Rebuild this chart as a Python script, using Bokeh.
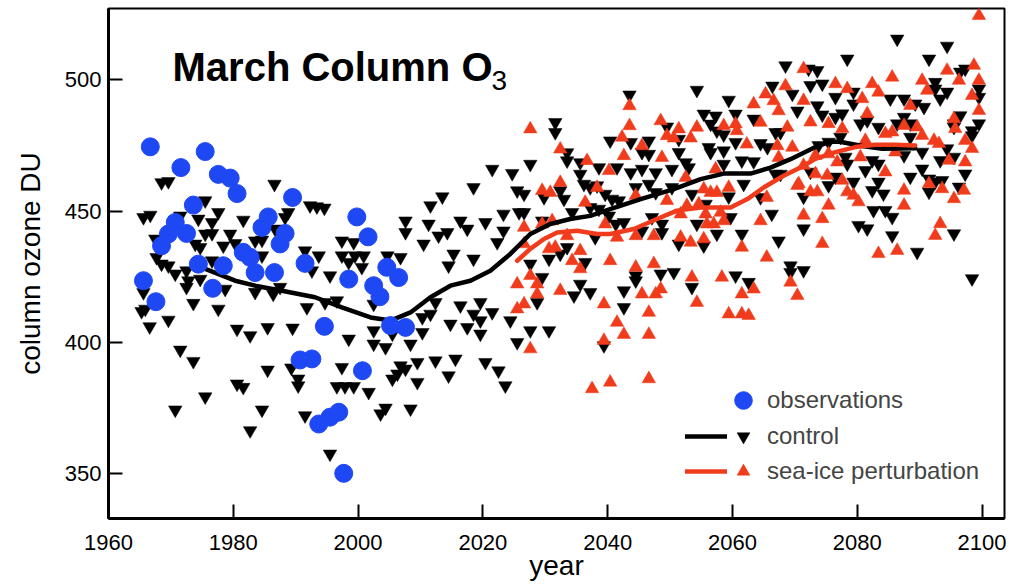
from bokeh.plotting import figure
from bokeh.models import Range1d, FixedTicker, Label, Legend, LegendItem
from bokeh.embed import file_html
from bokeh.resources import INLINE

# ---------------- data ----------------
x_ticks = [1960, 1980, 2000, 2020, 2040, 2060, 2080, 2100]
y_ticks = [350, 400, 450, 500]

obs_year = [1965.6, 1966.7, 1967.6, 1968.5, 1969.6, 1970.7, 1971.6, 1972.5, 1973.6, 1974.4,
            1975.5, 1976.7, 1977.6, 1978.4, 1979.5, 1980.6, 1981.6, 1982.7, 1983.5, 1984.6,
            1985.6, 1986.6, 1987.5, 1988.3, 1989.5, 1990.7, 1991.5, 1992.6, 1993.7, 1994.6,
            1995.5, 1996.9, 1997.7, 1998.5, 1999.8, 2000.7, 2001.6, 2002.5, 2003.5, 2004.6,
            2005.2, 2006.5, 2007.6]
obs_o3 = [423.5, 474.5, 415.5, 436.8, 441.3, 445.7, 466.6, 441.5, 452.3, 429.8,
          472.7, 420.6, 464.0, 429.2, 462.6, 456.7, 434.3, 432.4, 426.6, 443.8,
          447.8, 426.6, 437.5, 441.5, 455.2, 393.3, 430.1, 393.7, 368.9, 406.1,
          371.5, 373.4, 350.1, 424.1, 447.8, 389.2, 440.2, 421.6, 417.4, 428.6,
          406.4, 424.7, 405.7]

ctrl_year = [
    1968.5, 1969.6, 1986.6, 1975.5, 1965.6, 1966.7, 1971.5, 1977.6, 1974.4, 1976.6,
    1981.6, 1988.8, 1988.3, 1992.3, 1993.4, 1994.6, 1975.5, 1976.6, 1979.5, 1967.5,
    1973.9, 1974.7, 1978.4, 1980.3, 1983.5, 1984.6, 1986.7, 1997.4, 1999.3, 1967.7,
    1968.5, 1969.6, 1970.7, 1972.5, 1972.8, 1972.5, 1974.7, 1976.6, 1984.6, 1991.5,
    1993.7, 1992.6, 1997.4, 1998.5, 1999.5, 1995.5, 1965.6, 1978.7, 1983.5, 1986.4,
    1987.5, 1991.8, 1994.7, 1996.6, 1973.6, 1977.6, 1965.3, 1965.9, 1966.6, 1969.6,
    1980.6, 1982.7, 1985.5, 1989.5, 1998.5, 1971.5, 1973.6, 1985.5, 1989.3, 1990.4,
    1990.4, 1997.4, 1980.6, 1981.6, 1996.6, 1997.9, 1999.3, 1975.5, 1970.7, 1984.6,
    1991.5, 1982.7, 1995.5,
    2031.6, 2031.6, 2027.6, 2021.5, 2024.7, 2033.5, 2033.5, 2035.6, 2035.6, 2036.2,
    2037.2, 2038.3, 2018.5, 2025.5, 2026.6, 2032.4, 2033.0, 2029.8, 2013.5, 2011.6,
    2034.3, 2023.3, 2025.8, 2026.6, 2007.6, 2007.6, 2011.3, 2016.4, 2017.5, 2020.4,
    2023.3, 2012.9, 2014.3, 2010.5, 2022.3, 2029.5, 2015.3, 2018.5, 2014.5, 2027.6,
    2030.6, 2032.4, 2036.4, 2029.5, 2033.5, 2035.6, 2037.2, 2034.6, 2028.7, 2006.8,
    2004.7, 2000.9, 2000.6, 2002.5, 2012.4, 2016.4, 2019.6, 2018.5, 2019.6, 2021.5,
    2024.4, 2017.5, 2019.6, 2014.8, 2010.3, 2010.3, 2011.6, 2008.4, 2004.4, 2002.5,
    2002.5, 2005.5, 2025.5, 2027.6, 2030.6, 2006.8, 2007.6, 2009.5, 2009.5, 2005.5,
    2006.3, 2012.4, 2015.6, 2014.5, 2020.4, 2022.5, 2023.6, 2001.7, 2003.6, 2004.4,
    2008.4,
    2068.5, 2066.4, 2069.6, 2054.3, 2043.5, 2059.4, 2055.4, 2057.3, 2060.5, 2063.4,
    2070.4, 2049.5, 2056.5, 2057.5, 2058.6, 2066.9, 2067.7, 2040.4, 2043.7, 2046.6,
    2051.4, 2060.5, 2064.5, 2065.6, 2056.2, 2056.5, 2058.6, 2045.5, 2046.6, 2051.4,
    2038.6, 2041.5, 2043.7, 2045.5, 2047.7, 2050.3, 2052.5, 2053.0, 2058.6, 2061.5,
    2063.4, 2066.9, 2067.7, 2044.5, 2046.6, 2047.7, 2050.3, 2053.5, 2039.6, 2040.7,
    2041.8, 2059.4, 2061.8, 2064.5, 2037.2, 2038.6, 2040.2, 2041.3, 2042.6, 2047.1,
    2048.7, 2048.7, 2054.3, 2055.7, 2059.7, 2066.3, 2038.0, 2045.5, 2051.4, 2055.4,
    2057.5, 2061.5, 2067.4, 2044.5, 2044.5, 2048.5, 2050.6, 2042.6, 2042.6, 2053.5,
    2060.5, 2062.6, 2069.3, 2069.3, 2039.4,
    2086.4, 2094.4, 2078.4, 2091.5, 2072.2, 2073.6, 2096.5, 2097.3, 2072.5, 2074.4,
    2079.4, 2092.5, 2092.5, 2094.4, 2099.5, 2099.5, 2076.5, 2085.3, 2087.5, 2089.3,
    2090.7, 2093.3, 2073.6, 2074.4, 2079.4, 2076.5, 2077.6, 2080.5, 2081.6, 2083.4,
    2086.4, 2087.5, 2088.5, 2096.5, 2095.5, 2095.5, 2099.5, 2098.4, 2098.4, 2077.3,
    2075.4, 2073.8, 2088.5, 2090.4, 2094.4, 2078.1, 2078.4, 2082.4, 2083.4, 2087.5,
    2093.3, 2095.5, 2072.5, 2081.3, 2076.5, 2075.4, 2079.4, 2083.4, 2084.2, 2082.4,
    2088.5, 2090.4, 2091.5, 2092.5, 2093.6, 2091.5, 2096.3, 2097.3, 2071.4, 2082.6,
    2084.5, 2085.6, 2080.2, 2081.6, 2071.4, 2085.6, 2095.5, 2089.6, 2071.4, 2098.4,
]
ctrl_o3 = [
    460.9, 461.3, 460.3, 454.0, 447.6, 448.5, 448.2, 449.5, 447.0, 445.7,
    446.6, 449.5, 447.6, 452.1, 451.7, 451.2, 441.3, 441.5, 441.3, 439.4,
    437.5, 436.2, 436.8, 437.7, 438.7, 439.0, 443.2, 438.7, 438.1, 432.4,
    429.9, 429.2, 426.1, 427.3, 423.5, 421.0, 424.1, 431.1, 433.0, 434.9,
    433.0, 427.3, 433.0, 430.5, 433.0, 425.4, 419.0, 420.3, 419.1, 418.4,
    421.0, 413.3, 415.2, 415.9, 414.9, 412.7, 411.8, 412.7, 406.0, 408.5,
    405.1, 402.6, 405.7, 405.5, 401.3, 397.1, 392.8, 389.5, 390.3, 386.1,
    383.5, 390.5, 384.2, 382.9, 383.2, 383.2, 383.2, 379.3, 374.3, 374.3,
    372.1, 366.4, 357.5,
    483.8, 480.0, 467.9, 466.0, 464.4, 472.3, 469.2, 468.5, 464.1, 460.3,
    459.0, 459.7, 459.0, 457.8, 456.5, 457.8, 454.6, 455.2, 455.5, 452.1,
    449.5, 448.9, 449.5, 449.5, 446.3, 441.9, 445.1, 446.3, 443.2, 445.7,
    442.5, 440.6, 441.9, 437.5, 438.1, 446.3, 433.7, 431.8, 429.2, 429.9,
    431.8, 433.7, 430.5, 424.8, 436.2, 422.2, 419.0, 417.8, 415.2, 432.4,
    433.0, 433.0, 428.6, 414.6, 415.2, 414.0, 415.2, 410.8, 408.3, 411.4,
    408.3, 405.7, 403.2, 407.0, 409.5, 403.8, 410.8, 399.4, 398.1, 404.5,
    399.4, 403.2, 400.0, 404.5, 404.5, 391.1, 389.9, 392.4, 384.8, 386.1,
    388.0, 393.0, 393.7, 387.3, 392.4, 389.2, 383.5, 381.0, 372.8, 375.0,
    374.7,
    505.4, 497.7, 494.6, 496.1, 494.3, 492.3, 487.0, 486.3, 487.0, 485.1,
    488.2, 482.1, 483.2, 480.6, 479.1, 480.0, 480.0, 476.8, 476.2, 476.8,
    477.4, 476.2, 475.8, 474.3, 474.3, 472.4, 473.0, 472.4, 471.7, 472.4,
    466.6, 466.6, 464.7, 466.0, 464.7, 466.0, 468.5, 466.6, 467.9, 469.2,
    468.9, 464.1, 464.1, 459.0, 460.3, 457.1, 459.0, 456.5, 456.5, 454.6,
    454.0, 455.5, 460.3, 455.2, 451.4, 450.8, 448.2, 445.1, 445.7, 447.6,
    445.1, 441.9, 445.1, 452.7, 447.6, 448.9, 440.0, 442.5, 437.5, 436.8,
    441.3, 441.3, 438.7, 425.4, 423.5, 426.1, 426.7, 419.7, 413.3, 421.0,
    425.4, 422.9, 429.2, 426.7, 398.8,
    515.6, 512.9, 508.0, 508.0, 504.2, 503.6, 503.0, 504.2, 497.9, 498.5,
    495.4, 499.1, 496.6, 495.4, 496.6, 493.4, 493.4, 492.8, 492.8, 490.9,
    489.6, 492.8, 490.2, 486.7, 490.9, 485.8, 487.1, 483.3, 484.5, 482.0,
    483.3, 485.8, 483.3, 486.4, 483.3, 482.0, 483.3, 480.7, 478.8, 478.2,
    476.3, 475.0, 478.2, 472.5, 473.8, 470.6, 468.0, 469.3, 468.0, 471.2,
    469.3, 470.6, 464.9, 465.5, 463.0, 459.8, 461.1, 461.1, 456.6, 457.9,
    463.0, 466.1, 462.3, 461.1, 461.7, 457.3, 459.2, 464.2, 455.4, 450.3,
    450.3, 447.7, 444.6, 443.3, 443.3, 440.7, 441.4, 434.4, 427.4, 424.3,
]

sea_year = [
    2027.6, 2032.4, 2036.7, 2029.5, 2030.8, 2032.4, 2036.4, 2038.3, 2026.6, 2029.5,
    2031.1, 2033.5, 2035.6, 2030.6, 2031.6, 2026.6, 2034.3, 2035.6, 2025.5, 2027.6,
    2028.7, 2028.7, 2032.4, 2025.5, 2026.6, 2027.6, 2037.5,
    2043.5, 2043.5, 2048.5, 2051.4, 2054.3, 2049.5, 2050.6, 2053.3, 2042.3, 2063.4,
    2065.3, 2066.6, 2067.4, 2068.5, 2064.5, 2058.6, 2060.5, 2060.7, 2062.3, 2068.8,
    2067.2, 2069.6, 2045.5, 2042.6, 2048.7, 2040.2, 2052.5, 2057.3, 2067.4, 2070.4,
    2044.5, 2049.5, 2055.4, 2056.5, 2057.5, 2059.4, 2054.6, 2055.7, 2065.5, 2039.6,
    2051.7, 2052.7, 2058.1, 2055.9, 2057.0, 2058.6, 2064.5, 2041.5, 2044.5, 2047.4,
    2051.7, 2053.3, 2055.4, 2061.5, 2065.5, 2040.4, 2044.5, 2047.4, 2053.5, 2058.3,
    2045.5, 2047.7, 2048.5, 2061.5, 2063.4, 2069.3, 2070.4, 2039.4, 2054.3, 2046.6,
    2041.5, 2042.6, 2046.6, 2059.4, 2061.5, 2062.6, 2039.4, 2040.4, 2046.6,
    2099.5, 2071.4, 2085.6, 2094.4, 2098.7, 2076.5, 2082.4, 2083.4, 2090.4, 2096.3,
    2099.5, 2078.4, 2098.4, 2071.4, 2091.2, 2080.8, 2088.5, 2099.5, 2072.5, 2075.4,
    2077.6, 2081.6, 2084.5, 2085.6, 2087.5, 2089.6, 2090.4, 2095.5, 2095.7, 2092.3,
    2093.1, 2097.3, 2098.4, 2081.3, 2071.4, 2073.3, 2075.4, 2076.8, 2080.5, 2086.1,
    2094.7, 2097.3, 2070.6, 2073.3, 2075.2, 2077.6, 2084.5, 2091.5, 2093.6, 2097.1,
    2072.5, 2073.6, 2078.4, 2079.4, 2080.2, 2087.5, 2075.4, 2087.5, 2095.5, 2071.4,
    2074.4, 2093.3, 2092.5, 2074.4, 2083.4, 2086.4,
]
sea_o3 = [
    481.3, 473.6, 469.2, 457.8, 457.1, 460.9, 453.3, 459.0, 443.8, 445.1,
    446.3, 440.6, 434.9, 435.6, 436.2, 437.5, 431.1, 428.0, 422.2, 425.4,
    422.2, 418.4, 419.7, 412.7, 414.6, 397.5, 382.3,
    490.1, 482.5, 484.4, 481.3, 481.9, 478.7, 477.8, 477.8, 478.1, 490.8,
    494.6, 492.0, 488.2, 497.7, 483.8, 482.5, 483.2, 480.6, 475.5, 481.9,
    474.9, 474.3, 474.9, 471.1, 470.4, 465.4, 462.8, 466.0, 470.4, 459.7,
    455.9, 454.0, 458.4, 457.1, 457.1, 459.0, 452.7, 448.9, 455.2, 445.1,
    448.9, 452.1, 449.5, 445.1, 445.1, 446.3, 446.3, 440.0, 440.6, 440.6,
    440.0, 438.1, 439.4, 436.2, 432.4, 431.1, 428.6, 429.9, 424.8, 424.8,
    418.4, 418.4, 420.3, 418.4, 420.3, 422.9, 417.8, 414.6, 415.2, 411.4,
    407.6, 403.0, 403.0, 410.8, 410.8, 410.2, 400.7, 384.8, 386.1,
    524.5, 504.2, 501.0, 503.6, 505.5, 498.5, 498.5, 495.3, 499.8, 499.8,
    499.8, 496.6, 494.0, 492.1, 496.0, 492.8, 490.2, 488.3, 483.9, 483.3,
    481.4, 487.1, 479.5, 480.1, 482.6, 482.0, 478.8, 485.2, 481.4, 476.9,
    475.7, 476.9, 473.8, 476.9, 467.4, 471.2, 471.8, 468.7, 470.6, 472.5,
    469.3, 468.7, 460.4, 464.2, 463.6, 461.7, 464.9, 460.4, 458.5, 457.9,
    457.3, 457.3, 457.3, 456.0, 453.5, 457.9, 452.2, 452.2, 454.7, 448.4,
    447.1, 445.2, 440.7, 437.6, 433.8, 435.0,
]

ctrl_smooth_year = [1975.5, 1980.3, 1983.5, 1987.8, 1993.1, 1997.4, 2002.0, 2005.2, 2008.4,
                    2011.6, 2014.8, 2018.0, 2021.2, 2024.4, 2027.6, 2030.8, 2034.0, 2037.2,
                    2040.4, 2045.3, 2050.6, 2054.9, 2058.6, 2062.9, 2066.1, 2069.3, 2073.3,
                    2075.4, 2077.0, 2080.8, 2084.0, 2089.3]
ctrl_smooth_o3 = [428.0, 423.5, 421.6, 419.7, 417.2, 413.3, 409.5, 408.3, 411.4,
                  417.2, 421.6, 423.5, 427.3, 433.7, 441.3, 445.1, 447.0, 448.2,
                  450.8, 454.6, 458.4, 462.2, 464.3, 464.3, 466.6, 469.8, 474.4,
                  476.3, 476.5, 474.8, 473.8, 474.0]

sea_smooth_year = [2025.5, 2027.6, 2029.8, 2031.9, 2035.1, 2038.3, 2040.4, 2044.2, 2047.9,
                   2051.1, 2054.9, 2059.7, 2062.4, 2065.0, 2068.2, 2070.9, 2073.3, 2076.5,
                   2079.7, 2082.9, 2086.1, 2089.3]
sea_smooth_o3 = [431.1, 435.6, 439.4, 441.9, 442.5, 441.3, 441.3, 443.2, 447.0,
                 450.2, 451.4, 451.4, 454.6, 459.0, 463.5, 466.6, 469.9, 472.5,
                 474.4, 475.3, 475.3, 475.0]

# ---------------- styling ----------------
FONT = "Liberation Sans"
BLUE = "#1f48f5"
RED = "#f03c1c"

p = figure(width=1009, height=584, output_backend="svg", toolbar_location=None,
           x_range=Range1d(1960, 2103.6), y_range=Range1d(332.9, 527.2),
           min_border_left=108, min_border_right=5, min_border_top=8, min_border_bottom=66)
p.grid.visible = False
p.background_fill_color = "white"
p.border_fill_color = "white"
p.outline_line_color = "black"
p.outline_line_width = 2

for ax in (p.xaxis[0], p.yaxis[0]):
    ax.axis_line_width = 3
    ax.major_tick_in = 14
    ax.major_tick_out = 0
    ax.major_tick_line_width = 2
    ax.minor_tick_line_color = None
    ax.major_label_text_font = FONT
    ax.major_label_text_font_size = "22px"
    ax.major_label_text_color = "black"
    ax.axis_label_text_font = FONT
    ax.axis_label_text_font_size = "28px"
    ax.axis_label_text_font_style = "normal"
    ax.axis_label_text_color = "black"

p.xaxis.ticker = FixedTicker(ticks=x_ticks)
p.yaxis.ticker = FixedTicker(ticks=y_ticks)
p.xaxis.axis_label = "year"
p.yaxis.axis_label = "column ozone DU"
p.xaxis.major_label_standoff = 16
p.xaxis.axis_label_standoff = -3
p.yaxis.major_label_standoff = 7
p.yaxis.axis_label_standoff = 16

r_ctrl = p.scatter(ctrl_year, ctrl_o3, marker="inverted_triangle", size=13.5,
                   fill_color="black", line_color="black", line_width=0.5)
r_sea = p.scatter(sea_year, sea_o3, marker="triangle", size=13.5,
                  fill_color=RED, line_color=RED, line_width=0.5)
r_ctrl_line = p.line(ctrl_smooth_year, ctrl_smooth_o3, line_color="black", line_width=4.5,
                     line_join="round", line_cap="round")
r_sea_line = p.line(sea_smooth_year, sea_smooth_o3, line_color=RED, line_width=4.5,
                    line_join="round", line_cap="round")
r_obs = p.scatter(obs_year, obs_o3, marker="circle", size=18,
                  fill_color=BLUE, line_color=BLUE)

# title inside the plot
p.add_layout(Label(x=64, y=452, x_units="screen", y_units="screen", text="March Column O",
                   text_font=FONT, text_font_style="bold", text_font_size="40px",
                   text_baseline="alphabetic", text_color="black"))
p.add_layout(Label(x=383, y=438, x_units="screen", y_units="screen", text="3",
                   text_font=FONT, text_font_size="28px",
                   text_baseline="alphabetic", text_color="black"))


def make_legend(items, loc, gw, gh, standoff, fsize="24px"):
    lg = Legend(items=items, location=loc, orientation="vertical",
                glyph_width=gw, glyph_height=gh, label_standoff=standoff,
                padding=0, margin=0, spacing=0, border_line_color=None,
                background_fill_alpha=0, label_text_font=FONT,
                label_text_font_size=fsize, label_height=10, label_width=0)
    p.add_layout(lg)
    return lg


make_legend([LegendItem(label="observations", renderers=[r_obs])], (613, 96), 44, 44, 2)
make_legend([LegendItem(label="control", renderers=[r_ctrl])], (619, 66), 32, 32, 8)
make_legend([LegendItem(label="sea-ice perturbation", renderers=[r_sea])], (619, 31), 32, 32, 8)
make_legend([LegendItem(label=" ", renderers=[r_ctrl_line])], (577, 66), 42, 32, 0, "2px")
make_legend([LegendItem(label=" ", renderers=[r_sea_line])], (577, 31), 42, 32, 0, "2px")

open("out.html", "w").write(file_html(p, INLINE))
